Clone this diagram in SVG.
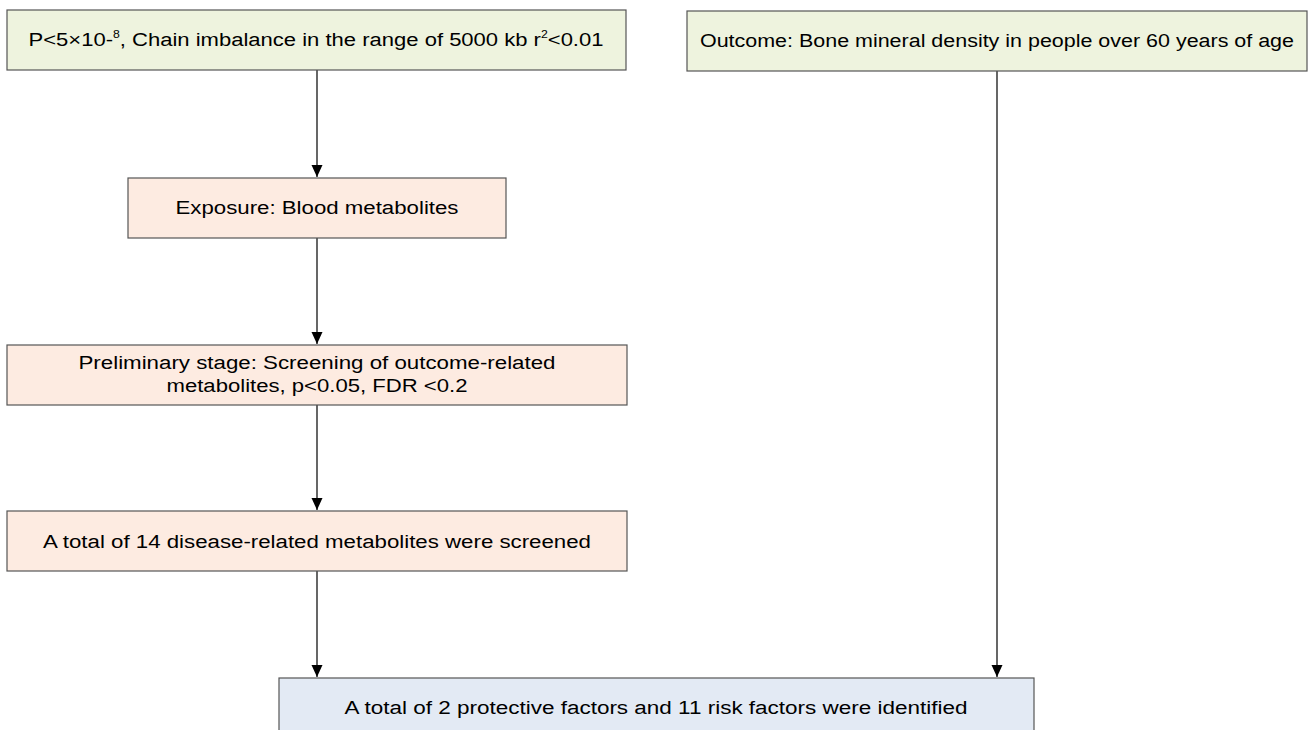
<svg xmlns="http://www.w3.org/2000/svg" width="1309" height="730" viewBox="0 0 1309 730">
<defs>
<marker id="arr" markerWidth="12" markerHeight="14" refX="12" refY="6" orient="auto" markerUnits="userSpaceOnUse">
<path d="M0,0.5 L12,6 L0,11.5 Z" fill="#000"/>
</marker>
<style>
.box{stroke:#555;stroke-width:1.2}
.g{fill:#EEF3DE}
.o{fill:#FDEBE1}
.b{fill:#E3EAF4}
text{font-family:"Liberation Sans",Arial,sans-serif;font-size:18px;fill:#000;text-anchor:middle;dominant-baseline:central}
.c{stroke:#000;stroke-width:1.2;fill:none}
</style>
</defs>
<rect width="1309" height="730" fill="#fff"/>
<g id="connectors">
<line class="c" x1="317" y1="70" x2="317" y2="177" marker-end="url(#arr)"/>
<line class="c" x1="317" y1="238" x2="317" y2="344" marker-end="url(#arr)"/>
<line class="c" x1="317" y1="405" x2="317" y2="510" marker-end="url(#arr)"/>
<line class="c" x1="317" y1="571" x2="317" y2="677" marker-end="url(#arr)"/>
<line class="c" x1="997" y1="71" x2="997" y2="677" marker-end="url(#arr)"/>
</g>
<g id="n1">
<rect class="box g" x="7" y="10" width="619" height="60"/>
<text x="316" y="40" textLength="575" lengthAdjust="spacingAndGlyphs">P&lt;5×10-<tspan font-size="10" dy="-6">8</tspan><tspan dy="6">, Chain imbalance in the range of 5000 kb r</tspan><tspan font-size="10" dy="-6">2</tspan><tspan dy="6">&lt;0.01</tspan></text>
</g>
<g id="n2">
<rect class="box g" x="687" y="11" width="620" height="60"/>
<text x="997" y="41" textLength="594" lengthAdjust="spacingAndGlyphs">Outcome: Bone mineral density in people over 60 years of age</text>
</g>
<g id="n3">
<rect class="box o" x="128" y="178" width="378" height="60"/>
<text x="317" y="208" textLength="283" lengthAdjust="spacingAndGlyphs">Exposure: Blood metabolites</text>
</g>
<g id="n4">
<rect class="box o" x="7" y="345" width="620" height="60"/>
<text x="317" y="363" textLength="477" lengthAdjust="spacingAndGlyphs">Preliminary stage: Screening of outcome-related</text>
<text x="317" y="386" textLength="301" lengthAdjust="spacingAndGlyphs">metabolites, p&lt;0.05, FDR &lt;0.2</text>
</g>
<g id="n5">
<rect class="box o" x="7" y="511" width="620" height="60"/>
<text x="317" y="542" textLength="548" lengthAdjust="spacingAndGlyphs">A total of 14 disease-related metabolites were screened</text>
</g>
<g id="n6">
<rect class="box b" x="279" y="678" width="755" height="60"/>
<text x="656" y="708" textLength="623" lengthAdjust="spacingAndGlyphs">A total of 2 protective factors and 11 risk factors were identified</text>
</g>
</svg>
